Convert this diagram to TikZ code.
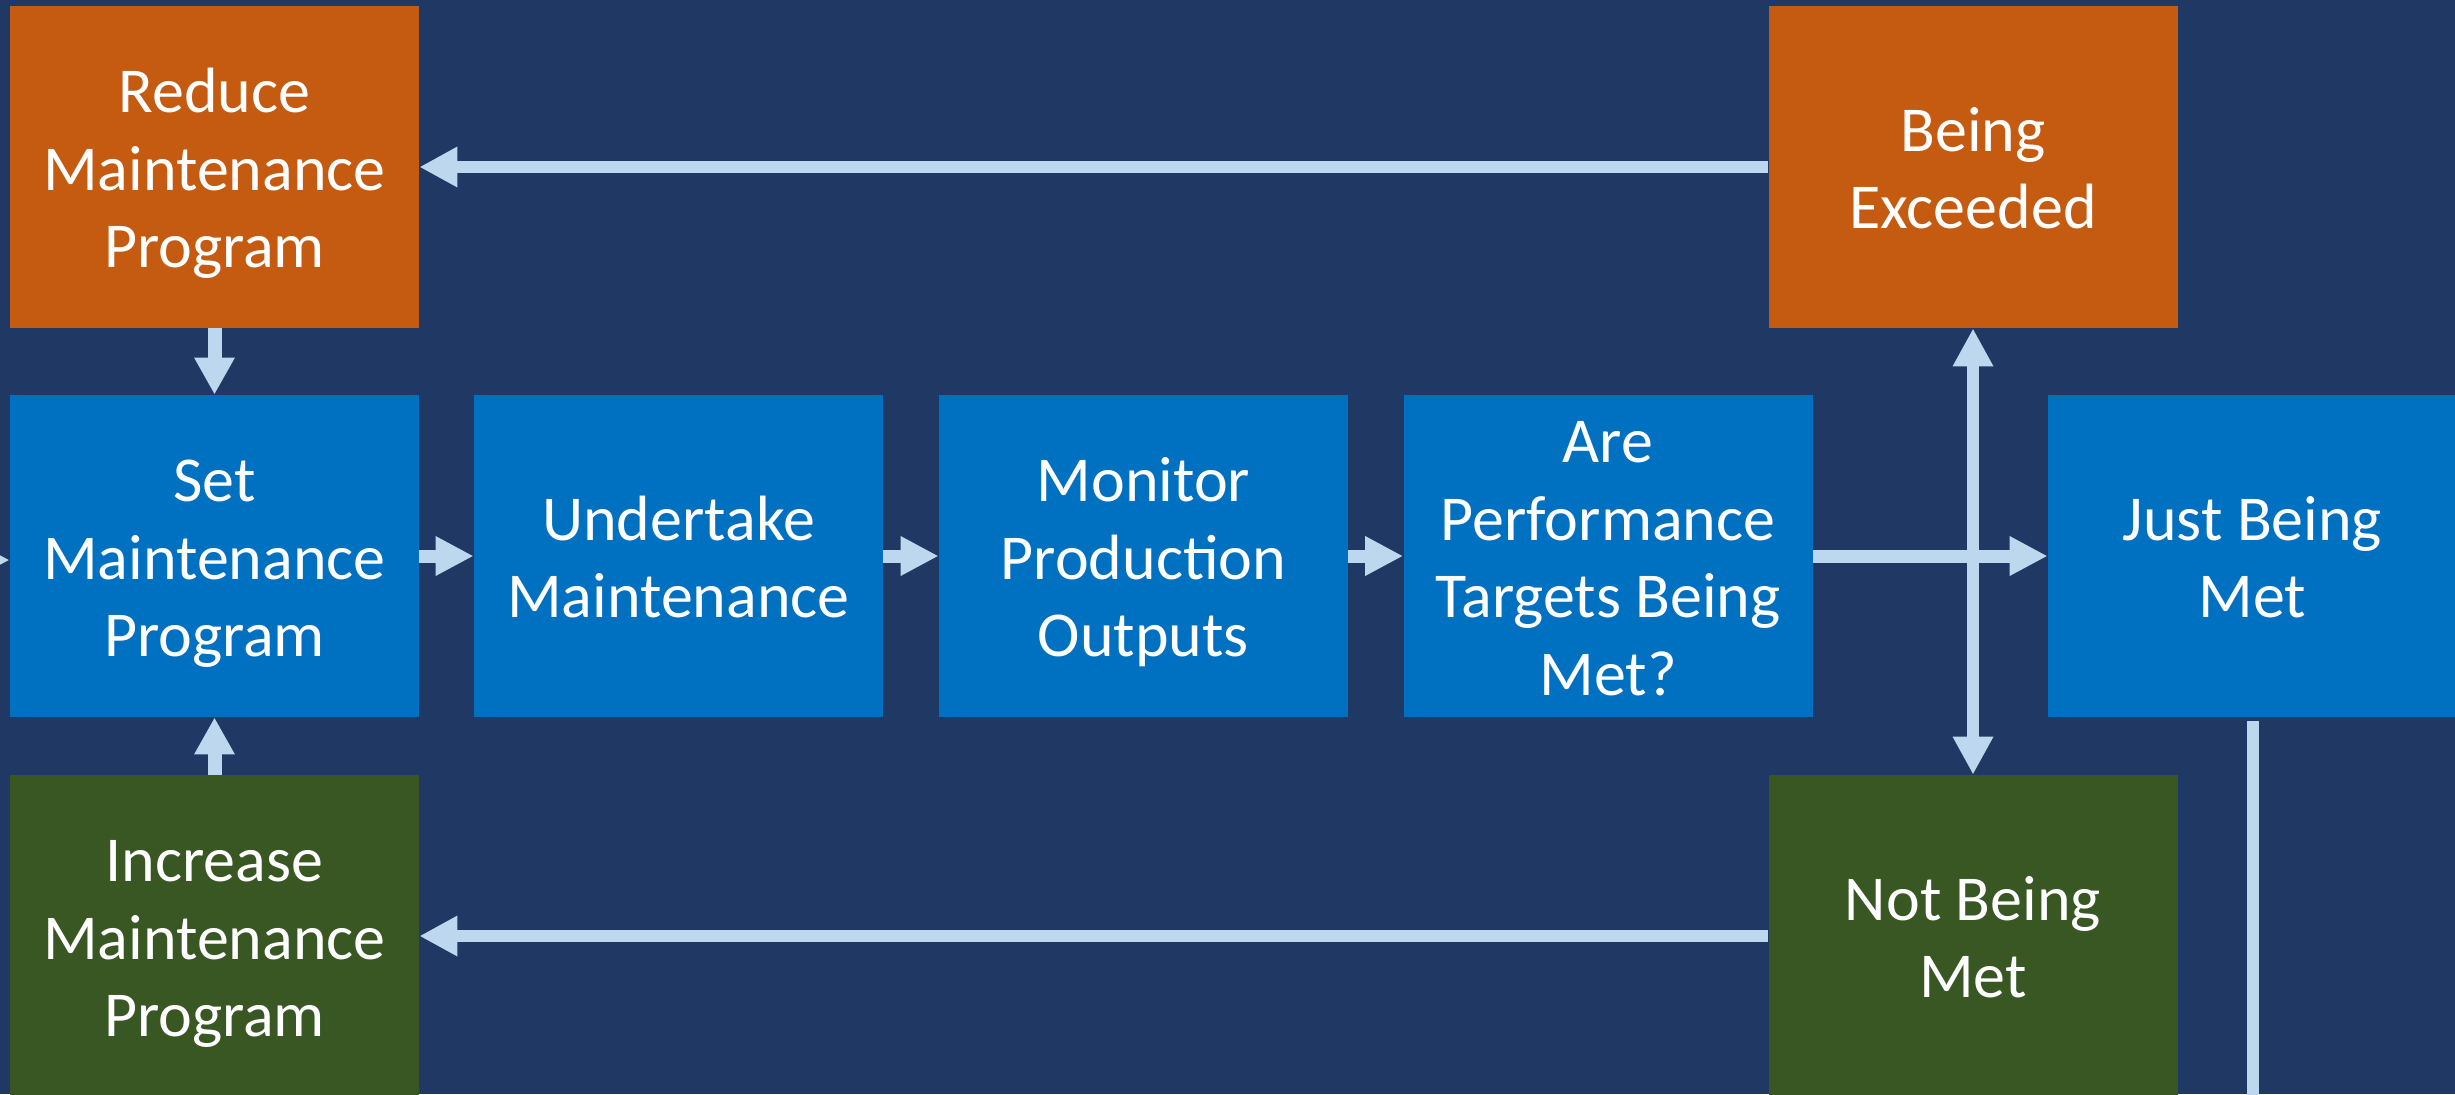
\documentclass[tikz,border=0pt]{standalone}
\usepackage{fontspec}
\setmainfont{Carlito}
\usetikzlibrary{arrows.meta}
\definecolor{bg}{HTML}{203864}
\definecolor{boxblue}{HTML}{0070C0}
\definecolor{boxorange}{HTML}{C55A11}
\definecolor{boxgreen}{HTML}{385723}
\definecolor{arrowblue}{HTML}{BDD7EE}
\newcommand\mytopstrut{\rule{0pt}{30pt}}
\newcommand\mybotstrut{\rule[-7pt]{0pt}{7pt}}
\begin{document}
\begin{tikzpicture}[x=0.5pt,y=-0.5pt,
  box/.style={rectangle, inner sep=0pt, minimum width=204.5pt, minimum height=161pt,
    text=white, align=center, font=\fontsize{32pt}{38.75pt}\selectfont},
  bluebox/.style={box, fill=boxblue},
  orangebox/.style={box, fill=boxorange},
  greenbox/.style={box, fill=boxgreen},
  flow/.style={draw=arrowblue, line width=6.5pt, -{Triangle[length=19pt,width=18.5pt]}},
  vflow/.style={draw=arrowblue, line width=7pt, -{Triangle[length=18.5pt,width=19pt]}},
  backflow/.style={draw=arrowblue, line width=6pt, -{Triangle[length=19pt,width=19pt]}},
  dflow/.style={draw=arrowblue, line width=6pt, {Triangle[length=19pt,width=19pt]}-{Triangle[length=19pt,width=19pt]}},
  plainline/.style={draw=arrowblue, line width=6pt},
]
\useasboundingbox (0,0) rectangle (2455,1094);
\fill[bg] (0,0) rectangle (2455,1094);
\clip (0,0) rectangle (2455,1094);

% nodes
\node[orangebox] (reduce) at (214.5,167) {\mytopstrut Reduce\\Maintenance\\Program\mybotstrut};
\node[bluebox] (set) at (214.5,556) {\mytopstrut Set\\Maintenance\\Program\mybotstrut};
\node[greenbox] (increase) at (214.5,936) {\mytopstrut Increase\\Maintenance\\Program\mybotstrut};
\node[bluebox] (undertake) at (678.5,556) {\mytopstrut Undertake\\Maintenance\mybotstrut};
\node[bluebox] (monitor) at (1143.5,556) {\mytopstrut Monitor\\Production\\Outputs\mybotstrut};
\node[bluebox] (are) at (1608,556) {\mytopstrut Are\\Performance\\Targets Being\\Met?\mybotstrut};
\node[bluebox] (just) at (2252.5,556) {\mytopstrut Just Being\\Met\mybotstrut};
\node[orangebox] (exceed) at (1973,167) {\mytopstrut Being\\Exceeded\mybotstrut};
\node[greenbox] (notmet) at (1973,936) {\mytopstrut Not Being\\Met\mybotstrut};

\coordinate (jtop) at (2253,721);
\coordinate (jend) at (2253,1120);
\coordinate (leftin) at (-60,560);

% connectors
\draw[flow] (set.east) -- (undertake.west);
\draw[flow] (undertake.east) -- (monitor.west);
\draw[flow] (monitor.east) -- (are.west);
\draw[flow] (are.east) -- (just.west);
\draw[dflow] (exceed.south) -- (notmet.north);
\draw[vflow] (reduce.south) -- (set.north);
\draw[vflow] (increase.north) -- (set.south);
\draw[backflow] (exceed.west) -- (reduce.east);
\draw[backflow] (notmet.west) -- (increase.east);
\draw[plainline] (jtop) -- (jend);
\draw[flow] (leftin) -- (leftin -| set.west);
\end{tikzpicture}
\end{document}
